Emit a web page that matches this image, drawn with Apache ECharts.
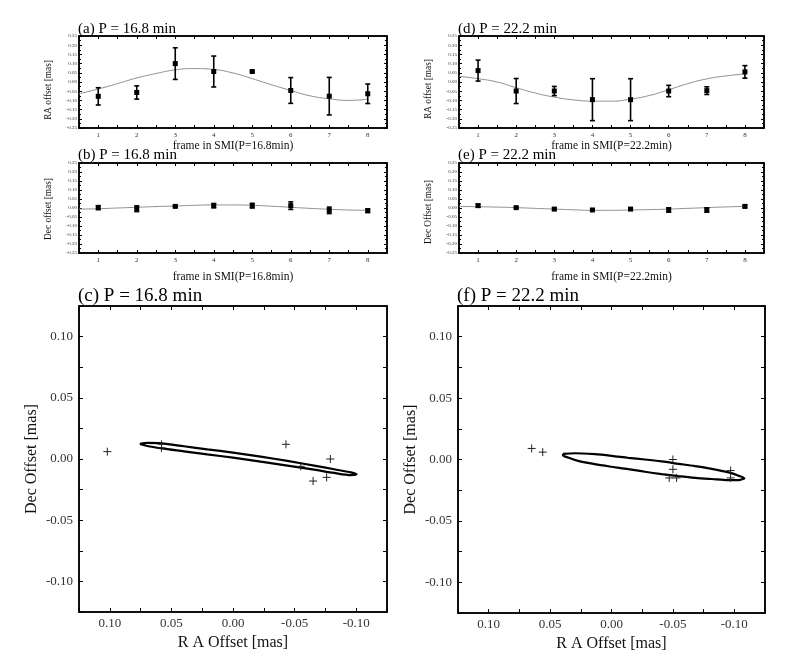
<!DOCTYPE html>
<html lang="en">
<head>
<meta charset="UTF-8">
<title>SMI offsets</title>
<script src="https://cdn.jsdelivr.net/npm/echarts@6/dist/echarts.min.js"></script>
<style>
  html, body { margin: 0; padding: 0; background: #fff; }
  #chart { width: 791px; height: 664px; }
</style>
</head>
<body>
<div id="chart"></div>
<script>
const frames = [1, 2, 3, 4, 5, 6, 7, 8];

const raA    = [-0.078, -0.057, 0.100, 0.057, 0.057, -0.046, -0.077, -0.064];
const raAErr = [0.047, 0.036, 0.086, 0.084, 0.004, 0.070, 0.102, 0.053];
const decB    = [0.002, -0.004, 0.009, 0.013, 0.013, 0.013, -0.013, -0.015];
const decBErr = [0.011, 0.016, 0.005, 0.012, 0.013, 0.021, 0.018, 0.010];

const raD    = [0.062, -0.049, -0.049, -0.096, -0.096, -0.049, -0.047, 0.055];
const raDErr = [0.057, 0.068, 0.025, 0.114, 0.114, 0.031, 0.021, 0.034];
const decE    = [0.013, 0.002, -0.006, -0.011, -0.006, -0.011, -0.011, 0.009];
const decEErr = [0.008, 0.004, 0.006, 0.005, 0.005, 0.012, 0.012, 0.007];

// fitted curves, sampled from the figure
const curveX = [0.5, 1, 1.5, 2, 2.5, 3, 3.5, 4, 4.5, 5, 5.5, 6, 6.5, 7, 7.5, 8];
const curveA = [-0.064, -0.038, -0.009, 0.022, 0.046, 0.066, 0.073, 0.068, 0.049, 0.018, -0.015, -0.046, -0.075, -0.091, -0.100, -0.093];
const curveB = [-0.006, -0.004, 0.000, 0.004, 0.008, 0.011, 0.015, 0.017, 0.017, 0.015, 0.010, 0.004, -0.002, -0.007, -0.011, -0.013];
const curveD = [0.031, 0.018, 0.000, -0.031, -0.060, -0.082, -0.097, -0.104, -0.104, -0.093, -0.073, -0.042, -0.009, 0.017, 0.033, 0.044];
const curveE = [0.009, 0.007, 0.005, 0.002, -0.002, -0.006, -0.010, -0.013, -0.013, -0.011, -0.009, -0.006, -0.002, 0.002, 0.006, 0.009];

// sky positions (RA, Dec) for panels c and f
const skyC = [[0.102, 0.006], [0.058, 0.012], [0.058, 0.009], [-0.043, 0.012], [-0.055, -0.006], [-0.065, -0.018], [-0.076, -0.015], [-0.079, 0.000]];
const skyF = [[0.065, 0.009], [0.056, 0.006], [-0.050, 0.000], [-0.050, -0.008], [-0.047, -0.015], [-0.053, -0.015], [-0.097, -0.009], [-0.097, -0.015]];

// orbit ellipses, outline points
const ellC = [[0.0756, 0.0123], [0.0696, 0.0131], [0.058, 0.0128], [0.0398, 0.0104], [0.0209, 0.0079], [0, 0.0052],
  [-0.0225, 0.0019], [-0.0442, -0.0016], [-0.0659, -0.0054], [-0.0821, -0.0084], [-0.0957, -0.0109], [-0.1003, -0.0125],
  [-0.0957, -0.0131], [-0.0821, -0.0114], [-0.0659, -0.0087], [-0.0442, -0.0054], [-0.0225, -0.0022], [0, 0.0011],
  [0.0209, 0.0038], [0.0398, 0.0063], [0.058, 0.0087], [0.0696, 0.0106], [0.0756, 0.0123]];
const ellF = [[0.0395, 0.0046], [0.0300, 0.0051], [0.0136, 0.0043], [0, 0.0030], [-0.0136, 0.0014], [-0.0272, 0.0000],
  [-0.0409, -0.0016], [-0.0545, -0.0035], [-0.0681, -0.0054], [-0.0817, -0.0076], [-0.0954, -0.0105], [-0.1035, -0.0132],
  [-0.1082, -0.0154], [-0.1082, -0.0159], [-0.1035, -0.0168], [-0.0954, -0.0168], [-0.0817, -0.0159], [-0.0681, -0.0149],
  [-0.0545, -0.0135], [-0.0409, -0.0119], [-0.0272, -0.0100], [-0.0136, -0.0078], [0, -0.0059], [0.0136, -0.0038],
  [0.0272, -0.0011], [0.0354, 0.0016], [0.0395, 0.0035], [0.0395, 0.0046]];

const FONT = 'Liberation Serif';

var grids = [];
var xAxes = [];
var yAxes = [];
var series = [];
var titles = [];

function fmt2(v) {
    if (Math.abs(v) < 1e-9) v = 0;
    return v.toFixed(2);
}

function addPanel(box, opt) {
    var gi = grids.length;
    grids.push({ left: box[0], top: box[1], width: box[2], height: box[3], show: true,
        borderColor: '#000', borderWidth: 1.5, backgroundColor: '#fff' });
    var tickLine = { color: '#000', width: 1 };
    var base = { gridIndex: gi, type: 'value', splitLine: { show: false },
        axisLine: { show: true, onZero: false, lineStyle: { color: '#000', width: 1.5 } } };
    var xb = Object.assign({}, base, {
        min: opt.xMin, max: opt.xMax, interval: opt.xInt, inverse: !!opt.inverse,
        name: opt.xName, nameLocation: 'middle', nameGap: opt.xNameGap,
        nameTextStyle: { fontFamily: FONT, fontSize: opt.xNameSize, color: '#111' },
        axisTick: { inside: true, length: opt.tickLen, lineStyle: tickLine },
        axisLabel: { fontFamily: FONT, fontSize: opt.xLabelSize, color: '#333', margin: opt.xLabelMargin, formatter: opt.xFmt }
    });
    var xt = Object.assign({}, base, {
        min: opt.xMin, max: opt.xMax, interval: opt.xInt, inverse: !!opt.inverse, position: 'top',
        axisTick: { inside: true, length: opt.tickLen, lineStyle: tickLine }, axisLabel: { show: false }
    });
    var yl = Object.assign({}, base, {
        min: opt.yMin, max: opt.yMax, interval: opt.yInt,
        name: opt.yName, nameLocation: 'middle', nameGap: opt.yNameGap, nameRotate: 90,
        nameTextStyle: { fontFamily: FONT, fontSize: opt.yNameSize, color: '#111',
            padding: [0, opt.yNameShift || 0, 0, 0] },
        axisTick: { inside: true, length: opt.tickLen, lineStyle: tickLine },
        minorTick: { show: opt.yMinor, splitNumber: 2, length: 2, lineStyle: tickLine },
        axisLabel: { fontFamily: FONT, fontSize: opt.yLabelSize, color: '#333', margin: opt.yLabelMargin, formatter: opt.yFmt }
    });
    var yr = Object.assign({}, base, {
        min: opt.yMin, max: opt.yMax, interval: opt.yInt, position: 'right',
        axisTick: { inside: true, length: opt.tickLen, lineStyle: tickLine },
        minorTick: { show: opt.yMinor, splitNumber: 2, length: 2, lineStyle: tickLine },
        axisLabel: { show: false }
    });
    var xi = xAxes.length;
    xAxes.push(xb, xt);
    var yi = yAxes.length;
    yAxes.push(yl, yr);
    titles.push({ text: opt.title, left: box[0] - 1, top: opt.titleTop, padding: 0,
        textStyle: { fontFamily: FONT, fontSize: opt.titleSize, fontWeight: 'normal', color: '#000' } });
    return { x: xi, y: yi };
}

function frameOpts(title, titleTop, xName, xNameGap, yName, yNameShift) {
    return {
        title: title, titleTop: titleTop, titleSize: 15,
        xMin: 0.5, xMax: 8.5, xInt: 0.5,
        xFmt: function (v) { return Number.isInteger(v) ? String(v) : ''; },
        xName: xName, xNameGap: xNameGap, xNameSize: 11.5, xLabelSize: 7, xLabelMargin: 4,
        yMin: -0.25, yMax: 0.25, yInt: 0.05, yMinor: true, yFmt: fmt2,
        yName: yName, yNameSize: 9.3, yNameGap: 25.5, yNameShift: yNameShift, yLabelSize: 5, yLabelMargin: 2,
        tickLen: 3
    };
}

function skyOpts(title) {
    var fmt = function (v) {
        var k = Math.round(v / 0.05);
        return Math.abs(k * 0.05 - v) < 1e-9 ? fmt2(v) : '';
    };
    return {
        title: title, titleTop: 287, titleSize: 19,
        xMin: -0.125, xMax: 0.125, xInt: 0.025, inverse: true, xFmt: fmt,
        xName: 'R A Offset [mas]', xNameGap: 23, xNameSize: 16, xLabelSize: 13, xLabelMargin: 5,
        yMin: -0.125, yMax: 0.125, yInt: 0.025, yMinor: false, yFmt: fmt,
        yName: 'Dec Offset [mas]', yNameGap: 39, yNameSize: 16, yLabelSize: 13, yLabelMargin: 6,
        tickLen: 4
    };
}

function errorBarSeries(ax, vals, errs) {
    return {
        type: 'custom', xAxisIndex: ax.x, yAxisIndex: ax.y, z: 5,
        data: frames.map(function (f, i) { return [f, vals[i], errs[i]]; }),
        renderItem: function (params, api) {
            var x = api.value(0), y = api.value(1), e = api.value(2);
            var c = api.coord([x, y]);
            var hi = api.coord([x, y + e]);
            var lo = api.coord([x, y - e]);
            var st = { stroke: '#000', lineWidth: 1.6 };
            return { type: 'group', children: [
                { type: 'line', shape: { x1: c[0], y1: hi[1], x2: c[0], y2: lo[1] }, style: st },
                { type: 'line', shape: { x1: c[0] - 2.5, y1: hi[1], x2: c[0] + 2.5, y2: hi[1] }, style: st },
                { type: 'line', shape: { x1: c[0] - 2.5, y1: lo[1], x2: c[0] + 2.5, y2: lo[1] }, style: st },
                { type: 'rect', shape: { x: c[0] - 2.5, y: c[1] - 2.5, width: 5, height: 5 }, style: { fill: '#000' } }
            ] };
        }
    };
}

function curveSeries(ax, vals) {
    return {
        type: 'line', xAxisIndex: ax.x, yAxisIndex: ax.y, z: 3, smooth: true, symbol: 'none',
        lineStyle: { color: '#909090', width: 1 },
        data: curveX.map(function (x, i) { return [x, vals[i]]; })
    };
}

function plusSeries(ax, pts) {
    return {
        type: 'custom', xAxisIndex: ax.x, yAxisIndex: ax.y, z: 6, data: pts,
        renderItem: function (params, api) {
            var c = api.coord([api.value(0), api.value(1)]);
            var st = { stroke: '#222', lineWidth: 1 };
            return { type: 'group', children: [
                { type: 'line', shape: { x1: c[0] - 4, y1: c[1], x2: c[0] + 4, y2: c[1] }, style: st },
                { type: 'line', shape: { x1: c[0], y1: c[1] - 4, x2: c[0], y2: c[1] + 4 }, style: st }
            ] };
        }
    };
}

function ellipseSeries(ax, pts) {
    return {
        type: 'line', xAxisIndex: ax.x, yAxisIndex: ax.y, z: 4, smooth: 0.3, symbol: 'none',
        lineStyle: { color: '#000', width: 2.2 }, data: pts
    };
}

var axA = addPanel([79, 36, 308, 92], frameOpts('(a) P = 16.8 min', 22, 'frame in SMI(P=16.8min)', 12, 'RA offset [mas]', 16));
var axB = addPanel([79, 163, 308, 90], frameOpts('(b) P = 16.8 min', 148, 'frame in SMI(P=16.8min)', 18, 'Dec offset [mas]', 2));
var axD = addPanel([459, 36, 305, 92], frameOpts('(d) P = 22.2 min', 22, 'frame in SMI(P=22.2min)', 12, 'RA offset [mas]', 14));
var axE = addPanel([459, 163, 305, 90], frameOpts('(e) P = 22.2 min', 148, 'frame in SMI(P=22.2min)', 18, 'Dec Offset [mas]', 8));
var axC = addPanel([79, 306, 308, 306], skyOpts('(c) P = 16.8 min'));
var axF = addPanel([458, 306, 307, 307], skyOpts('(f) P = 22.2 min'));

series.push(curveSeries(axA, curveA), errorBarSeries(axA, raA, raAErr));
series.push(curveSeries(axB, curveB), errorBarSeries(axB, decB, decBErr));
series.push(curveSeries(axD, curveD), errorBarSeries(axD, raD, raDErr));
series.push(curveSeries(axE, curveE), errorBarSeries(axE, decE, decEErr));
series.push(ellipseSeries(axC, ellC), plusSeries(axC, skyC));
series.push(ellipseSeries(axF, ellF), plusSeries(axF, skyF));

var chart = echarts.init(document.getElementById('chart'));
chart.setOption({
    backgroundColor: '#fff',
    animation: false,
    title: titles,
    grid: grids,
    xAxis: xAxes,
    yAxis: yAxes,
    series: series
});
</script>
</body>
</html>
